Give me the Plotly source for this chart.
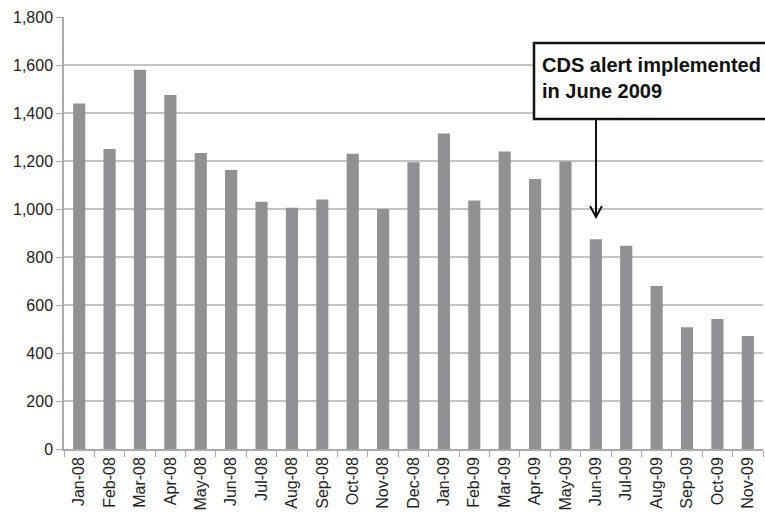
import plotly.graph_objects as go

months = ["Jan-08", "Feb-08", "Mar-08", "Apr-08", "May-08", "Jun-08", "Jul-08", "Aug-08",
          "Sep-08", "Oct-08", "Nov-08", "Dec-08", "Jan-09", "Feb-09", "Mar-09", "Apr-09",
          "May-09", "Jun-09", "Jul-09", "Aug-09", "Sep-09", "Oct-09", "Nov-09"]
counts = [1440, 1250, 1580, 1475, 1233, 1162, 1030, 1005, 1040, 1230, 1000, 1195,
          1315, 1035, 1240, 1125, 1198, 874, 847, 679, 507, 542, 471]
y_ticks = [0, 200, 400, 600, 800, 1000, 1200, 1400, 1600, 1800]
note = "CDS alert implemented<br>in June 2009"

L, R, T, B = 64, 2, 17, 65
W, H = 765, 514
pw, ph = W - L - R, H - T - B

def px(x):
    return (x - L) / pw

def py(y):
    return (H - B - y) / ph

fig = go.Figure(go.Bar(x=months, y=counts, marker_color="#919194",
                       marker_line_width=0))

fig.update_layout(
    width=W, height=H, margin=dict(l=L, r=R, t=T, b=B, autoexpand=False),
    plot_bgcolor="white", paper_bgcolor="white", bargap=0.6,
    showlegend=False,
    font=dict(family="Liberation Sans, Arial", size=16, color="#222"),
)
fig.update_xaxes(tickangle=-90, tickson="boundaries", ticks="outside", ticklen=6,
                 tickcolor="#aaa", showline=True, linecolor="#aaa", linewidth=1.5,
                 showgrid=False, tickfont=dict(size=16), automargin=False)
fig.update_yaxes(range=[0, 1800], tickvals=y_ticks, tickformat=",d", ticks="outside",
                 ticklen=6, tickcolor="#aaa", showline=True, linecolor="#aaa",
                 linewidth=1.5, gridcolor="#c4c4c4", gridwidth=1.5, zeroline=False,
                 tickfont=dict(size=16), automargin=False)

# annotation box
fig.add_shape(type="rect", xref="paper", yref="paper",
              x0=px(534), x1=px(790), y0=py(119), y1=py(43),
              line=dict(color="#111", width=2.5), fillcolor="white", layer="above")
fig.add_annotation(xref="paper", yref="paper", x=px(540), y=py(52),
                   xanchor="left", yanchor="top", align="left", showarrow=False,
                   text="<b>" + note + "</b>",
                   font=dict(size=20, color="#111", family="Liberation Sans, Arial"))
# arrow line and open head
fig.add_shape(type="line", xref="paper", yref="paper",
              x0=px(596), x1=px(596), y0=py(120), y1=py(216),
              line=dict(color="#111", width=2))
fig.add_shape(type="path", xref="paper", yref="paper",
              path=f"M {px(590)},{py(206)} L {px(596)},{py(217)} L {px(602)},{py(206)}",
              line=dict(color="#111", width=2))

fig.write_html("out.html", config={"displayModeBar": False},
               post_script="document.body.style.margin='0';document.body.style.overflow='hidden';")
